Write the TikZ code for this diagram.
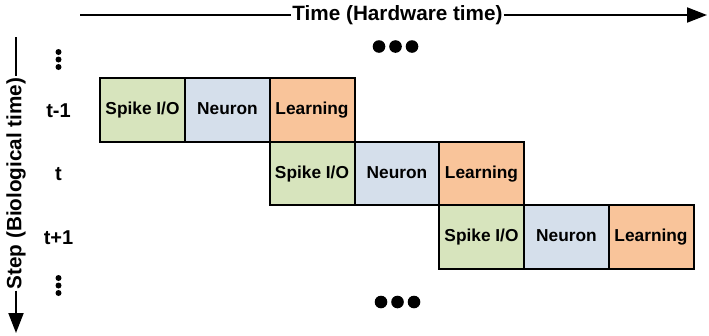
\documentclass[tikz,border=0pt]{standalone}
\usepackage{fontspec}
\setmainfont{Liberation Sans}
\usetikzlibrary{arrows.meta}
\definecolor{cgreen}{HTML}{D7E4BD}
\definecolor{cblue}{HTML}{D5DFEB}
\definecolor{corange}{HTML}{F9C49A}
\begin{document}
\begin{tikzpicture}[x=1pt,y=-1pt,
  stage/.style={draw=black,line width=2pt,minimum width=85pt,minimum height=63.5pt,inner sep=0pt,text height=12.6pt,text depth=3.6pt,font=\fontsize{17.3}{20}\selectfont\bfseries},
  spike/.style={stage,fill=cgreen},
  neur/.style={stage,fill=cblue},
  learn/.style={stage,fill=corange},
  axislbl/.style={font=\fontsize{20.7}{24}\selectfont\bfseries,inner sep=1pt},
  axisline/.style={line width=2pt},
  rowlbl/.style={font=\fontsize{20}{24}\selectfont\bfseries,inner sep=0pt,text height=14.5pt,text depth=0pt},
]
\useasboundingbox (0,0) rectangle (709,335);
% axes
\node[axislbl] (timelbl) at (397.5,15) {Time (Hardware time)};
\coordinate (tstart) at (80,15);
\coordinate (tend) at (707,15);
\draw[axisline] (tstart) -- (timelbl.west);
\draw[axisline,-{Triangle[length=20pt,width=15pt]}] (timelbl.east) -- (tend);
\node[axislbl,rotate=90] (steplbl) at (16,183.5) {Step (Biological time)};
\coordinate (sstart) at (16,37);
\coordinate (send) at (16,333);
\draw[axisline] (sstart) -- (steplbl.east);
\draw[axisline,-{Triangle[length=20pt,width=15pt]}] (steplbl.west) -- (send);
% row labels
\node[rowlbl] (r1) at (58.5,110) {t-1};
\node[rowlbl] (r2) at (58.5,173.5) {t};
\node[rowlbl] (r3) at (58.5,237) {t+1};
% vertical dots
\foreach \yy in {52,59.5,67} \fill (58.5,\yy) circle (3pt);
\foreach \yy in {278,285.5,293} \fill (58.5,\yy) circle (3pt);
% horizontal dots
\foreach \xx in {379,395.5,412} \fill (\xx,46.5) circle (6.3pt);
\foreach \xx in {381,397.5,414} \fill (\xx,302) circle (6.3pt);
% row 1
\node[spike] (s1) at (142.5,110) {Spike I/O};
\node[neur] (n1) at (227.5,110) {Neuron};
\node[learn] (l1) at (312,110) {Learning};
% row 2
\node[spike] (s2) at (312,173.5) {Spike I/O};
\node[neur] (n2) at (397,173.5) {Neuron};
\node[learn] (l2) at (481.5,173.5) {Learning};
% row 3
\node[spike] (s3) at (481.5,237) {Spike I/O};
\node[neur] (n3) at (566.5,237) {Neuron};
\node[learn] (l3) at (651,237) {Learning};
\end{tikzpicture}
\end{document}
